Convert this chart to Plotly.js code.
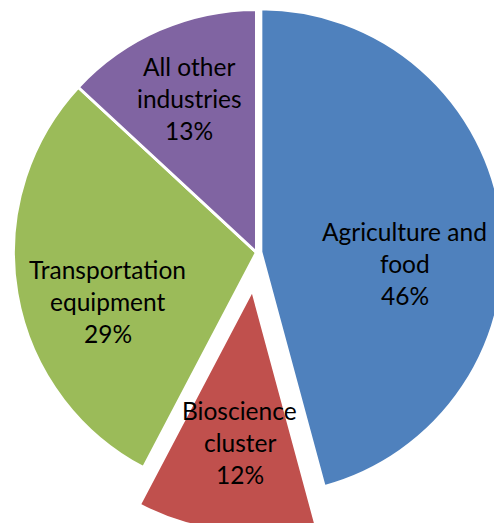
<!DOCTYPE html>
<html>
<head>
<meta charset="utf-8">
<script src="https://cdn.plot.ly/plotly-3.0.1.min.js"></script>
<style>
  html, body { margin: 0; padding: 0; width: 494px; height: 523px; overflow: hidden; background: #ffffff; }
  #chart { position: absolute; left: -24px; top: -28px; }
</style>
</head>
<body>
<div id="chart"></div>
<script>
// ---- data ----
const categories = ["Agriculture and food", "Bioscience cluster", "Transportation equipment", "All other industries"];
const shares = [45.8, 11.9, 29.2, 13.1];
const labelLines = [["Agriculture and", "food"], ["Bioscience", "cluster"], ["Transportation", "equipment"], ["All other", "industries"]];

// ---- style ----
const colors = ["#4F81BD", "#C0504D", "#9BBB59", "#8064A2"];
const pulls = [0.018, 0.154, 0, 0];
const labelRadius = [0.594, 0.629, 0.645, 0.69];   // fraction of pie radius
const labelAngleNudge = [12.3, -1.65, -8.6, 0];    // degrees
const W = 561, H = 561;
const fontSize = 24.5, lineStep = 32;

const total = shares.reduce((a, b) => a + b, 0);
const maxPull = Math.max(...pulls);
const R = Math.min(W, H) / 2 / (1 + maxPull);
const cx = W / 2, cy = H / 2;

const annotations = [];
let cum = 0;
shares.forEach((v, i) => {
  const mid = (cum + v / 2) / total * 360;
  cum += v;
  const midRad = mid * Math.PI / 180;
  const ox = cx + pulls[i] * R * Math.sin(midRad);
  const oy = cy - pulls[i] * R * Math.cos(midRad);
  const a = (mid + labelAngleNudge[i]) * Math.PI / 180;
  const lx = ox + labelRadius[i] * R * Math.sin(a);
  const ly = oy - labelRadius[i] * R * Math.cos(a);
  const pct = Math.round(v / total * 100) + "%";
  const lines = labelLines[i].concat([pct]);
  lines.forEach((t, k) => {
    const y = ly + (k - (lines.length - 1) / 2) * lineStep;
    annotations.push({
      text: t, x: lx / W, y: 1 - y / H, xref: "paper", yref: "paper",
      xanchor: "center", yanchor: "middle", showarrow: false,
      font: { family: "Lato, 'Open Sans', sans-serif", size: fontSize, color: "#000000" }
    });
  });
});

const trace = {
  type: "pie",
  labels: categories,
  values: shares,
  sort: false,
  direction: "clockwise",
  rotation: 0,
  pull: pulls,
  textinfo: "none",
  hoverinfo: "label+percent",
  marker: { colors: colors, line: { color: "#ffffff", width: 3 } },
  domain: { x: [0, 1], y: [0, 1] }
};

const layout = {
  width: W, height: H,
  margin: { l: 0, r: 0, t: 0, b: 0 },
  showlegend: false,
  paper_bgcolor: "rgba(0,0,0,0)",
  plot_bgcolor: "rgba(0,0,0,0)",
  annotations: annotations
};

Plotly.newPlot("chart", [trace], layout, { displayModeBar: false, staticPlot: true });
</script>
</body>
</html>
